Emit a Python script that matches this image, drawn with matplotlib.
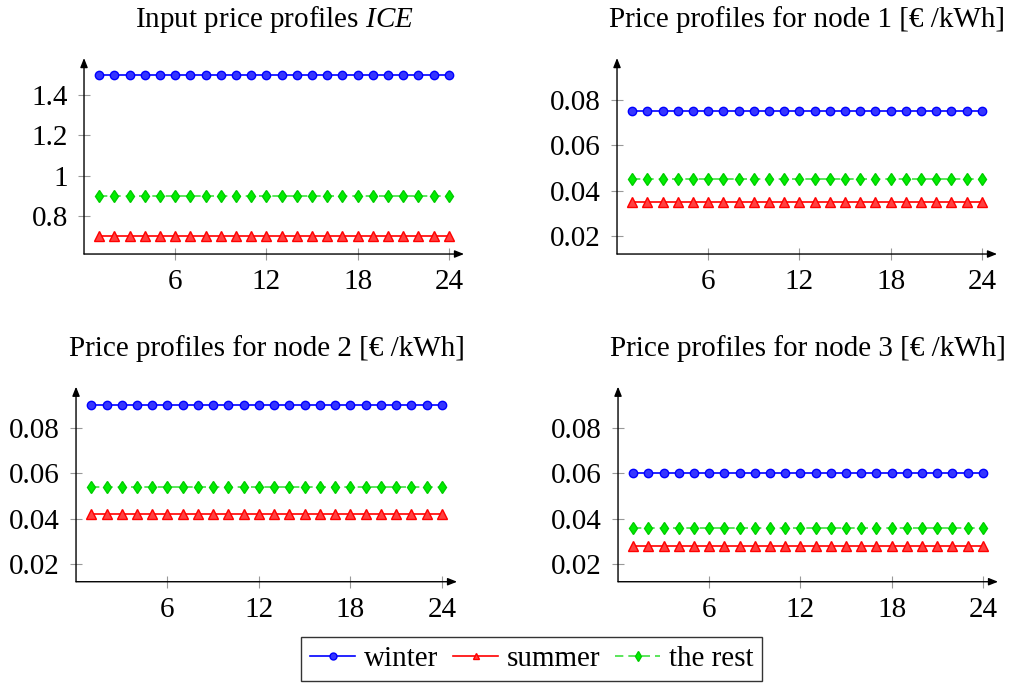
import numpy as np
import matplotlib
matplotlib.use("Agg")
import matplotlib.pyplot as plt
from matplotlib.lines import Line2D

plt.rcParams['font.family'] = ['Liberation Serif', 'DejaVu Serif']
plt.rcParams['mathtext.fontset'] = 'custom'
plt.rcParams['mathtext.rm'] = 'Liberation Serif'
plt.rcParams['mathtext.it'] = 'Liberation Serif:italic'

# data: every profile is flat over the 24 hours
hours = np.arange(1, 25)
titles = ["Input price profiles $\\mathit{ICE}$",
          "Price profiles for node 1 [€ /kWh]",
          "Price profiles for node 2 [€ /kWh]",
          "Price profiles for node 3 [€ /kWh]"]
winter = [1.5, 0.075, 0.09, 0.06]
summer = [0.7, 0.035, 0.042, 0.028]
rest = [0.9, 0.045, 0.054, 0.036]

xticks = [6, 12, 18, 24]
yticks = [[0.8, 1.0, 1.2, 1.4], [0.02, 0.04, 0.06, 0.08],
          [0.02, 0.04, 0.06, 0.08], [0.02, 0.04, 0.06, 0.08]]
yticklabels = [["0.8", "1", "1.2", "1.4"], ["0.02", "0.04", "0.06", "0.08"],
               ["0.02", "0.04", "0.06", "0.08"], ["0.02", "0.04", "0.06", "0.08"]]
ylims = [(0.61, 1.585), (0.0121, 0.0985), (0.0122, 0.098), (0.0122, 0.098)]

rects = [[0.0831, 0.6297, 0.3759, 0.2857],
         [0.6103, 0.6297, 0.3759, 0.2857],
         [0.0752, 0.1520, 0.3769, 0.2843],
         [0.6113, 0.1520, 0.3759, 0.2843]]

blue = '#0000ff'
red = '#ff0000'
styles = [
    dict(color=blue, marker='o', ms=6, mfc='#3535ff', mec=blue, ls='-', lw=1.2),
    dict(color=red, marker='^', ms=6.5, mfc='#ff4040', mec=red, ls='-', lw=1.2),
    dict(color='#40e040', marker='d', ms=6, mfc='#00ee00', mec='#00cc00',
         ls=(0, (5, 3)), lw=1.2),
]

fig = plt.figure(figsize=(10.11, 6.86), dpi=100)

for i in range(4):
    ax = fig.add_axes(rects[i])
    ax.plot(hours, [winter[i]] * len(hours), **styles[0])
    ax.plot(hours, [summer[i]] * len(hours), **styles[1])
    ax.plot(hours, [rest[i]] * len(hours), **styles[2])
    ax.set_xlim(0, 25)
    ax.set_ylim(*ylims[i])
    ax.set_xticks(xticks)
    ax.set_xticklabels([str(t) for t in xticks])
    ax.set_yticks(yticks[i])
    ax.set_yticklabels(yticklabels[i])
    for s in ax.spines.values():
        s.set_visible(False)
    ax.tick_params(direction='inout', length=9, width=0.8, color='#999999',
                   labelsize=21)
    ax.tick_params(axis='x', pad=6.5)
    ax.tick_params(axis='y', pad=7)
    arrow = dict(arrowstyle='-|>,head_length=0.55,head_width=0.22', lw=1.0,
                 color='black', shrinkA=0, shrinkB=0)
    ax.annotate('', xy=(1, 0), xytext=(0, 0), xycoords='axes fraction',
                arrowprops=arrow, annotation_clip=False)
    ax.annotate('', xy=(0, 1), xytext=(0, 0), xycoords='axes fraction',
                arrowprops=arrow, annotation_clip=False)
    ax.set_title(titles[i], fontsize=21, pad=22)

handles = [Line2D([], [], **styles[0]), Line2D([], [], **styles[1]),
           Line2D([], [], **styles[2])]
for h in handles:
    h.set_markersize(5)
leg = fig.legend(handles, ["winter", "summer", "the rest"], loc='center',
                 bbox_to_anchor=(0.526, 0.039), ncol=3, fontsize=21,
                 frameon=True, fancybox=False, edgecolor='black',
                 handlelength=1.55, handletextpad=0.3, columnspacing=0.5,
                 borderpad=0.3, borderaxespad=0)
leg.get_frame().set_linewidth(1.0)

fig.savefig("out.png", dpi=100)
